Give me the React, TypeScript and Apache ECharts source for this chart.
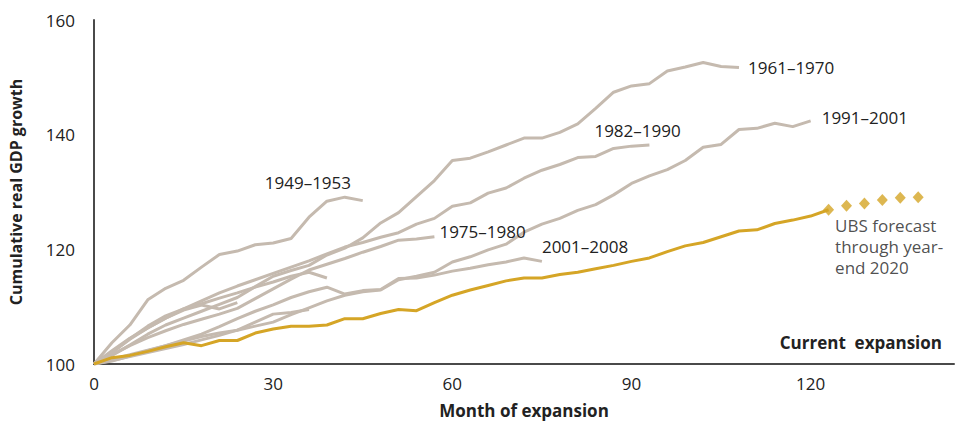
import React, { useEffect, useRef } from "react";
import * as echarts from "echarts";

const STEP_MONTHS = 3;

const xTicks = [0, 30, 60, 90, 120];
const yTicks = [100, 120, 140, 160];

const s1949 = [100, 103.7, 106.8, 111.2, 113.2, 114.6, 116.9, 119.1, 119.7, 120.8, 121.1, 121.9, 125.6, 128.4, 129.1, 128.5];
const s1954 = [100, 102.0, 104.4, 106.6, 108.4, 109.6, 110.5, 111.5, 112.4, 113.4, 114.3, 115.3, 116.0, 115.0];
const s1958 = [100, 102.3, 104.5, 106.3, 108.0, 109.4, 110.3, 109.6, 110.7];
const s1961 = [100, 101.5, 103.3, 105.2, 106.8, 108.0, 109.2, 110.4, 111.6, 113.5, 115.3, 116.3, 117.2, 119.0, 120.2, 122.0, 124.6, 126.4, 129.2, 132.0, 135.5, 135.9, 137.0, 138.2, 139.4, 139.4, 140.4, 141.9, 144.6, 147.4, 148.5, 148.9, 151.1, 151.8, 152.6, 151.9, 151.7];
const s1970 = [100, 100.8, 101.6, 102.4, 103.2, 104.0, 104.8, 105.4, 105.9, 107.3, 108.7, 109.0, 109.5];
const s1975 = [100, 101.6, 103.2, 104.6, 105.8, 106.9, 107.8, 108.7, 109.7, 111.4, 113.1, 114.8, 116.4, 117.4, 118.4, 119.5, 120.5, 121.6, 121.8, 122.2];
const s1982 = [100, 102.0, 104.3, 106.3, 108.0, 109.6, 111.0, 112.4, 113.6, 114.7, 115.8, 116.9, 118.0, 119.2, 120.4, 121.2, 122.1, 122.9, 124.4, 125.4, 127.5, 128.1, 129.8, 130.7, 132.4, 133.8, 134.8, 136.0, 136.2, 137.6, 138.0, 138.2];
const s1991 = [100, 100.6, 101.3, 102.0, 102.7, 103.4, 104.2, 105.0, 105.9, 106.6, 107.3, 108.6, 109.8, 111.0, 112.0, 112.6, 112.9, 114.7, 115.3, 116.0, 117.8, 118.7, 119.9, 120.9, 123.0, 124.4, 125.4, 126.8, 127.8, 129.5, 131.5, 132.8, 133.9, 135.5, 137.8, 138.3, 140.9, 141.1, 142.0, 141.4, 142.4];
const s2001 = [100, 100.5, 101.4, 102.3, 103.2, 104.2, 105.2, 106.5, 107.9, 109.2, 110.3, 111.6, 112.6, 113.4, 112.2, 112.8, 113.0, 114.9, 115.0, 115.5, 116.2, 116.7, 117.3, 117.8, 118.5, 117.9];
const current = [100, 101.1, 101.5, 102.2, 103.0, 103.7, 103.2, 104.1, 104.1, 105.4, 106.1, 106.6, 106.6, 106.8, 107.9, 107.9, 108.8, 109.5, 109.3, 110.7, 112.0, 112.9, 113.7, 114.5, 115.0, 115.0, 115.6, 116.0, 116.6, 117.2, 117.9, 118.5, 119.6, 120.6, 121.2, 122.2, 123.2, 123.4, 124.5, 125.1, 125.8, 126.9];
const forecastMonths = [123, 126, 129, 132, 135, 138];
const forecast = [126.9, 127.6, 128.0, 128.6, 129.0, 129.1];

const historical = [
  { name: "1949–1953", values: s1949, label: true, offset: [-104, -18] },
  { name: "1954–1957", values: s1954, label: false, offset: [0, 0] },
  { name: "1958–1960", values: s1958, label: false, offset: [0, 0] },
  { name: "1961–1970", values: s1961, label: true, offset: [3, 0] },
  { name: "1970–1973", values: s1970, label: false, offset: [0, 0] },
  { name: "1975–1980", values: s1975, label: true, offset: [-1, -5] },
  { name: "1982–1990", values: s1982, label: true, offset: [-61, -14] },
  { name: "1991–2001", values: s1991, label: true, offset: [5, -3] },
  { name: "2001–2008", values: s2001, label: true, offset: [-6, -15] },
];

const FONT = "'Open Sans', 'Noto Sans', sans-serif";
const GRAY = "#C5BAAF";
const GOLD = "#D5A526";
const TEXT = "#222222";

const toPoints = (vals: number[]) => vals.map((v, i) => [i * STEP_MONTHS, v]);

export default function App() {
  const ref = useRef<HTMLDivElement>(null);
  useEffect(() => {
    if (!ref.current) return;
    const chart = echarts.init(ref.current, undefined, { renderer: "svg" });
    const series: any[] = historical.map((h) => ({
      name: h.name,
      type: "line",
      data: toPoints(h.values),
      symbol: "none",
      lineStyle: { color: GRAY, width: 3 },
      z: 2,
      endLabel: {
        show: h.label,
        formatter: () => h.name,
        offset: h.offset,
        distance: 6,
        color: TEXT,
        fontSize: 17,
        fontFamily: FONT,
      },
    }));
    series.push({
      name: "Current expansion",
      type: "line",
      data: toPoints(current),
      symbol: "none",
      lineStyle: { color: GOLD, width: 3 },
      z: 5,
    });
    series.push({
      name: "UBS forecast",
      type: "scatter",
      data: forecastMonths.map((m, i) => {
        const item: any = { value: [m, forecast[i]] };
        if (i === 0) {
          item.label = {
            show: true,
            formatter: "UBS forecast\nthrough year-\nend 2020",
            position: [12, 11],
            align: "left",
            verticalAlign: "top",
            color: TEXT,
            fontSize: 17,
            lineHeight: 21,
            fontFamily: FONT,
          };
        }
        return item;
      }),
      symbol: "diamond",
      symbolSize: [11, 12],
      itemStyle: { color: GOLD },
      z: 6,
    });

    chart.setOption({
      animation: false,
      textStyle: { fontFamily: FONT },
      grid: { left: 93, right: 2, top: 20, bottom: 55, containLabel: false },
      xAxis: {
        type: "value",
        min: xTicks[0],
        max: 144,
        interval: xTicks[1] - xTicks[0],
        name: "Month of expansion",
        nameLocation: "middle",
        nameGap: 38,
        nameTextStyle: { fontSize: 17, fontWeight: "bold", color: TEXT, fontFamily: FONT },
        axisLine: { show: true, lineStyle: { color: "#4a4a4a", width: 2 } },
        axisTick: { show: false },
        splitLine: { show: false },
        axisLabel: {
          fontSize: 17,
          color: TEXT,
          margin: 11,
          fontFamily: FONT,
          showMaxLabel: false,
          formatter: (v: number) => (xTicks.includes(v) ? String(v) : ""),
        },
      },
      yAxis: {
        type: "value",
        min: yTicks[0],
        max: yTicks[yTicks.length - 1],
        interval: yTicks[1] - yTicks[0],
        name: "Cumulative real GDP growth",
        nameLocation: "middle",
        nameGap: 70,
        nameRotate: 90,
        nameTextStyle: { fontSize: 16, fontWeight: "bold", color: TEXT, fontFamily: FONT },
        axisLine: { show: true, lineStyle: { color: "#4a4a4a", width: 2 } },
        axisTick: { show: false },
        splitLine: { show: false },
        axisLabel: { fontSize: 17, color: TEXT, margin: 19, fontFamily: FONT },
      },
      graphic: [
        {
          type: "text",
          right: 14,
          top: 334,
          style: {
            text: "Current  expansion",
            fontSize: 17,
            fontWeight: "bold",
            fill: TEXT,
            fontFamily: FONT,
          },
        },
      ],
      series,
    });
    return () => chart.dispose();
  }, []);
  return (
    <div
      ref={ref}
      style={{ position: "absolute", left: 0, top: 0, width: 956, height: 424, background: "#fff" }}
    />
  );
}
